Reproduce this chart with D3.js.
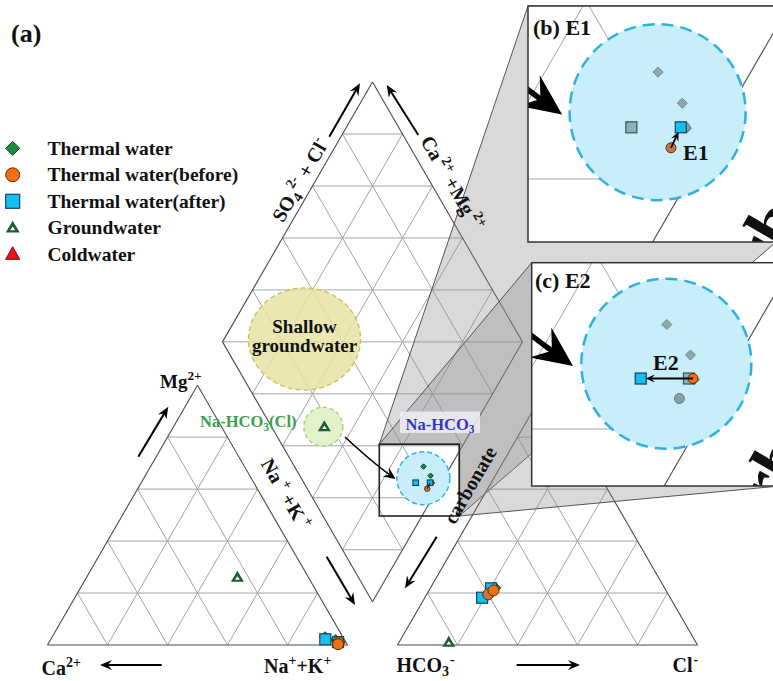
<!DOCTYPE html>
<html><head><meta charset="utf-8">
<script src="https://cdn.jsdelivr.net/npm/d3@7"></script>
<style>
body{margin:0;background:#fff;}
svg{display:block;font-family:"Liberation Serif","Times New Roman",serif;font-weight:bold;}
</style></head><body>
<svg id="chart" width="773" height="681"></svg>
<script>
// ---- sample compositions (meq %) ----
const sampleIds  = ["T1","T2","T3","A1","A2","B1","B2","G1"];
const sampleType = ["thermal","thermal","thermal","after","after","before","before","ground"];
const caPct   = [6.0, 3.0, 2.0, 6.3, 2.6, 2.5, 3.0, 23.7];
const mgPct   = [3.0, 1.9, 1.1, 2.2, 1.1, 1.0, 0.3, 26.0];
const naKPct  = [91.0, 95.1, 96.9, 91.5, 96.3, 96.5, 96.7, 50.3];
const hco3Pct = [57.0, 56.4, 57.4, 62.7, 57.9, 60.0, 57.5, 82.4];
const so4Pct  = [22.0, 22.0, 21.6, 18.2, 21.8, 19.5, 21.0, 1.0];
const clPct   = [21.0, 21.6, 21.0, 19.1, 20.3, 20.5, 21.5, 16.6];

// legend
const legendKeys  = ["thermal","before","after","ground","cold"];
const legendNames = ["Thermal water","Thermal water(before)","Thermal water(after)","Groundwater","Coldwater"];

// evolution pairs shown in the close-up panels
const panelNames  = ["E1","E2"];
const panelBefore = ["B1","B2"];
const panelAfter  = ["A2","A1"];
const gridSteps = [20,40,60,80];

// ---- geometry ----
const svg = d3.select("#chart");
const S = 300, HT = S*Math.sqrt(3)/2, baseY = 645, leftX0 = 47.5, gap = 50;
const rightX0 = leftX0 + S + gap;
const B = {x: leftX0 + S + gap/2, y: baseY - gap*Math.sqrt(3)/2};

const lX = d3.scaleLinear().domain([0,100]).range([leftX0, leftX0+S]);
const rX = d3.scaleLinear().domain([0,100]).range([rightX0, rightX0+S]);
const tY = d3.scaleLinear().domain([0,100]).range([baseY, baseY-HT]);
const dX = d3.scaleLinear().domain([-100,100]).range([B.x-S/2, B.x+S/2]);
const dY = d3.scaleLinear().domain([0,200]).range([B.y, B.y-2*HT]);

const catPt = (ca,mg,na) => [lX(na+mg/2), tY(mg)];
const anPt  = (hco3,so4,cl) => [rX(cl+so4/2), tY(so4)];
const diaPt = (a,c) => [dX(a-c), dY(a+c)];

const samples = sampleIds.map((id,i)=>({
  id, type: sampleType[i],
  cat: catPt(caPct[i], mgPct[i], naKPct[i]),
  an: anPt(hco3Pct[i], so4Pct[i], clPct[i]),
  dia: diaPt(so4Pct[i]+clPct[i], caPct[i]+mgPct[i])
}));
const byId = Object.fromEntries(samples.map(s=>[s.id,s]));

// ---- grid lines ----
const gridLines = [], edgeLines = [];
gridSteps.forEach(t=>{
  gridLines.push([catPt(100-t,t,0), catPt(0,t,100-t)]);
  gridLines.push([catPt(t,0,100-t), catPt(t,100-t,0)]);
  gridLines.push([catPt(100-t,0,t), catPt(0,100-t,t)]);
  gridLines.push([anPt(100-t,t,0), anPt(0,t,100-t)]);
  gridLines.push([anPt(t,0,100-t), anPt(t,100-t,0)]);
  gridLines.push([anPt(100-t,0,t), anPt(0,100-t,t)]);
  gridLines.push([diaPt(0,t), diaPt(100,t)]);
  gridLines.push([diaPt(t,0), diaPt(t,100)]);
});
d3.range(20,200,20).forEach(s=>{
  if (s<=100) gridLines.push([diaPt(s,0), diaPt(0,s)]);
  else gridLines.push([diaPt(100,s-100), diaPt(s-100,100)]);
});
const triL = [catPt(100,0,0), catPt(0,0,100), catPt(0,100,0)];
const triR = [anPt(100,0,0), anPt(0,0,100), anPt(0,100,0)];
const dia  = [diaPt(0,0), diaPt(100,0), diaPt(100,100), diaPt(0,100)];
[triL, triR, dia].forEach(poly=>poly.forEach((p,i)=>edgeLines.push([p, poly[(i+1)%poly.length]])));

function drawGrid(g, px, py, gw, ew){
  g.append("g").selectAll("line").data(gridLines).join("line")
    .attr("x1",d=>px(d[0][0])).attr("y1",d=>py(d[0][1]))
    .attr("x2",d=>px(d[1][0])).attr("y2",d=>py(d[1][1]))
    .attr("stroke","#a3a3a3").attr("stroke-width",gw);
  g.append("g").selectAll("line").data(edgeLines).join("line")
    .attr("x1",d=>px(d[0][0])).attr("y1",d=>py(d[0][1]))
    .attr("x2",d=>px(d[1][0])).attr("y2",d=>py(d[1][1]))
    .attr("stroke","#4a4a4a").attr("stroke-width",ew);
}

// ---- helpers ----
function rich(sel, parts, size){
  let shift = 0;
  parts.forEach(p=>{
    let target = 0, fs = size;
    if (p.sup){ target = -0.42*size; fs = 0.7*size; }
    else if (p.sub){ target = 0.22*size; fs = 0.7*size; }
    const ts = sel.append("tspan").text(p.t).attr("font-size",fs).attr("dy",target-shift);
    if (p.dx) ts.attr("dx",p.dx);
    shift = target;
  });
}
function arrowHead(tip, from, len, hw){
  const dx = tip[0]-from[0], dy = tip[1]-from[1], L = Math.hypot(dx,dy);
  const ux = dx/L, uy = dy/L, nx = -uy, ny = ux;
  return [tip,
    [tip[0]-len*ux+hw*nx, tip[1]-len*uy+hw*ny],
    [tip[0]-0.65*len*ux, tip[1]-0.65*len*uy],
    [tip[0]-len*ux-hw*nx, tip[1]-len*uy-hw*ny]];
}
function straightArrow(g, a, b, opt={}){
  const len = opt.len||11, hw = opt.hw||4.5, sw = opt.sw||2;
  const dx=b[0]-a[0], dy=b[1]-a[1], L=Math.hypot(dx,dy);
  const end = [b[0]-dx/L*len*0.6, b[1]-dy/L*len*0.6];
  g.append("line").attr("x1",a[0]).attr("y1",a[1]).attr("x2",end[0]).attr("y2",end[1])
    .attr("stroke","#000").attr("stroke-width",sw);
  g.append("polygon").attr("points",arrowHead(b,a,len,hw).map(p=>p.join(",")).join(" ")).attr("fill","#000");
}

const styles = {
  thermal:{fill:"#1f8c3d", stroke:"#0c4a1c"},
  before:{fill:"#f27012", stroke:"#5c2a08"},
  after:{fill:"#14bff1", stroke:"#12465c"},
  ground:{fill:"#1c5e2c", stroke:"#1c5e2c"},
  cold:{fill:"#e8141a", stroke:"#6e0a0a"}
};
const beforeTint = {B1:"#c5793d", B2:"#f27012"};
const faded = {
  thermal:{fill:"#8fa8ae", stroke:"#6f8d95"},
  after:{fill:"#91b1ba", stroke:"#34525a"},
  before:{fill:"#86a2a9", stroke:"#587880"}
};

function marker(g, type, x, y, size, st){
  const h = size/2;
  if (type==="thermal"){
    g.append("path").attr("d",`M${x},${y-h}L${x+h},${y}L${x},${y+h}L${x-h},${y}Z`)
      .attr("fill",st.fill).attr("stroke",st.stroke).attr("stroke-width",1);
  } else if (type==="before"){
    g.append("circle").attr("cx",x).attr("cy",y).attr("r",h)
      .attr("fill",st.fill).attr("stroke",st.stroke).attr("stroke-width",1);
  } else if (type==="after"){
    g.append("rect").attr("x",x-h).attr("y",y-h).attr("width",size).attr("height",size)
      .attr("fill",st.fill).attr("stroke",st.stroke).attr("stroke-width",1.2);
  } else if (type==="ground"){
    const th = size*0.85;
    g.append("path").attr("d",`M${x},${y-th*0.6}L${x+h},${y+th*0.4}L${x-h},${y+th*0.4}Z`).attr("fill",st.fill);
    g.append("path").attr("d",`M${x},${y-th*0.1}L${x+h*0.38},${y+th*0.2}L${x-h*0.38},${y+th*0.2}Z`).attr("fill","#fff");
  } else if (type==="cold"){
    const th = size*0.9;
    g.append("path").attr("d",`M${x},${y-th*0.6}L${x+h},${y+th*0.4}L${x-h},${y+th*0.4}Z`)
      .attr("fill",st.fill).attr("stroke",st.stroke).attr("stroke-width",1);
  }
}
const drawOrder = ["thermal","after","before","ground"];
function sampleStyle(s){ return s.type==="before" ? {fill:beforeTint[s.id], stroke:styles.before.stroke} : styles[s.type]; }

// ---- base grids ----
const gBase = svg.append("g");
drawGrid(gBase, d=>d, d=>d, 1, 1.1);

// annotation zones
const zone = svg.append("g");
zone.append("ellipse").attr("cx",304.5).attr("cy",339).attr("rx",56).attr("ry",51)
  .attr("fill","#e7e3a6").attr("fill-opacity",0.85).attr("stroke","#cdc45a").attr("stroke-width",1.5).attr("stroke-dasharray","5,3");
zone.append("circle").attr("cx",323.3).attr("cy",426.7).attr("r",19.5)
  .attr("fill","#e1f1c6").attr("fill-opacity",0.9).attr("stroke","#a6d27c").attr("stroke-width",1.5).attr("stroke-dasharray","4,3");
const naZone = {a:40.7, c:6.8, r:26.5};
const naC = diaPt(naZone.a, naZone.c);
zone.append("circle").attr("cx",naC[0]).attr("cy",naC[1]).attr("r",naZone.r)
  .attr("fill","#c9eefb").attr("stroke","#2cb1e2").attr("stroke-width",1.5).attr("stroke-dasharray","5,3");

// projection wedges toward the close-up panels
const rect = {x0:379.3, y0:444.3, x1:459.3, y1:516};
const panelBox = [{x0:528, y0:6, x1:776, y1:242}, {x0:531.7, y0:262.7, x1:780, y1:486}];
const gWedge = svg.append("g");
panelBox.forEach(p=>{
  const pts = [[rect.x0,rect.y0],[p.x0,p.y0],[p.x1,p.y0],[p.x1,p.y1],[rect.x1,rect.y1],[rect.x1,rect.y0]];
  gWedge.append("polygon").attr("points",pts.map(q=>q.join(",")).join(" "))
    .attr("fill","#8c8c8c").attr("fill-opacity",0.33).attr("stroke","#555").attr("stroke-width",1);
});

// Na-HCO3 label
svg.append("rect").attr("x",400).attr("y",411.5).attr("width",80).attr("height",21.5)
  .attr("fill","#efeff5").attr("fill-opacity",0.85);
rich(svg.append("text").attr("x",440).attr("y",429.5).attr("text-anchor","middle").attr("fill","#3434c6"),
  [{t:"Na-HCO"},{t:"3",sub:true}], 16.5);
rich(svg.append("text").attr("x",200).attr("y",427).attr("fill","#39a04c"),
  [{t:"Na-HCO"},{t:"3",sub:true},{t:"(Cl)"}], 16.5);
svg.append("text").attr("x",304.5).attr("y",332.5).attr("text-anchor","middle").attr("font-size",19).attr("fill","#111").text("Shallow");
svg.append("text").attr("x",304.5).attr("y",351.5).attr("text-anchor","middle").attr("font-size",19).attr("fill","#111").text("groundwater");

// zoom frame
svg.append("rect").attr("x",rect.x0).attr("y",rect.y0).attr("width",rect.x1-rect.x0).attr("height",rect.y1-rect.y0)
  .attr("fill","none").attr("stroke","#222").attr("stroke-width",1.6);

// curved arrow from the Na-HCO3(Cl) zone to the Na-HCO3 zone
const cArrow = {start:[345,437], ctrl:[372,462], tip:[395.5,479]};
function curvedArrow(g, px, py, k){
  const s=cArrow.start, c=cArrow.ctrl, t=cArrow.tip;
  const head = arrowHead(t, c, 12, 5.5);
  const end = head[2];
  g.append("path").attr("d",`M${px(s[0])},${py(s[1])}Q${px(c[0])},${py(c[1])} ${px(end[0])},${py(end[1])}`)
    .attr("fill","none").attr("stroke","#000").attr("stroke-width",1.6*k);
  g.append("polygon").attr("points",head.map(p=>px(p[0])+","+py(p[1])).join(" ")).attr("fill","#000");
}
curvedArrow(svg, d=>d, d=>d, 1);

// "carbonate" label along the diamond edge
const carboSize = 20;
function carbText(g, cx, cy, size){
  g.append("text").attr("transform",`translate(${cx},${cy}) rotate(-60)`)
    .attr("text-anchor","middle").attr("y",size*0.35).attr("font-size",size).attr("fill","#111").text("carbonate");
}
carbText(svg, 470, 485, carboSize);

// ---- samples in main diagram ----
const gPts = svg.append("g");
drawOrder.forEach(type=>{
  samples.filter(s=>s.type===type).forEach(s=>{
    const st = sampleStyle(s);
    const big = type==="ground" ? 13 : 11;
    marker(gPts, type, s.cat[0], s.cat[1], big, st);
    marker(gPts, type, s.an[0], s.an[1], big, st);
  });
});
["thermal","before","after","ground"].forEach(type=>{
  samples.filter(s=>s.type===type).forEach(s=>{
    const st = sampleStyle(s);
    marker(gPts, type, s.dia[0], s.dia[1], type==="ground"?13:5.5, st);
  });
});
// small evolution arrow inside the frame
(function(){
  const a = byId[panelBefore[0]].dia, b = byId[panelAfter[0]].dia;
  gPts.append("line").attr("x1",a[0]).attr("y1",a[1]).attr("x2",b[0]).attr("y2",b[1]).attr("stroke","#000").attr("stroke-width",1);
})();

// ---- axis labels and arrows ----
const lab = svg.append("g").attr("fill","#111");
rich(lab.append("text").attr("x",160).attr("y",388), [{t:"Mg"},{t:"2+",sup:true}], 19);
rich(lab.append("text").attr("x",41.5).attr("y",675), [{t:"Ca"},{t:"2+",sup:true}], 20);
rich(lab.append("text").attr("x",264).attr("y",673), [{t:"Na"},{t:"+",sup:true},{t:"+K"},{t:"+",sup:true}], 20);
rich(lab.append("text").attr("x",396.5).attr("y",672), [{t:"HCO"},{t:"3",sub:true},{t:"-",sup:true,dx:1}], 20);
rich(lab.append("text").attr("x",672.5).attr("y",672), [{t:"Cl"},{t:"-",sup:true,dx:1}], 20);

function rotLabel(cx, cy, ang, parts, size){
  const t = lab.append("text").attr("transform",`translate(${cx},${cy}) rotate(${ang})`)
    .attr("text-anchor","middle").attr("y",size*0.35);
  rich(t, parts, size);
}
rotLabel(300, 180, -60, [{t:"SO"},{t:"4",sub:true},{t:"2-",sup:true,dx:1},{t:" + Cl"},{t:"-",sup:true}], 20);
rotLabel(452.5, 183, 60, [{t:"Ca"},{t:"2+",sup:true,dx:3},{t:" +Mg"},{t:"2+",sup:true,dx:3}], 20);
rotLabel(286, 494, 60, [{t:"Na"},{t:"+",sup:true,dx:3},{t:" +K"},{t:"+",sup:true,dx:3}], 20);

const axisArrows = [
  [[138.3,456.7],[168.3,406.7]],
  [[161.7,665],[100,665]],
  [[516.7,665],[580,665]],
  [[326.7,556.7],[355,605]],
  [[436.7,536.7],[405,588.3]],
  [[329.3,136.7],[360,83.3]],
  [[418.3,135],[386.7,85]]
];
axisArrows.forEach(a=>straightArrow(lab, a[0], a[1], {len:12, hw:5, sw:2}));

// ---- close-up panels ----
const P1 = diaPt(40,0);
const panels = [
  {box:panelBox[0], k:3.43, anchor:[689,179], title:"(b) E1", titlePos:[533,35], tag:[683,160], ring:88, carbo:[788,194]},
  {box:panelBox[1], k:3.35, anchor:[697,429], title:"(c) E2", titlePos:[535,288], tag:[653,370], ring:85, carbo:[793,430]}
];
panels.forEach((p,pi)=>{
  const px = d3.scaleLinear().domain([P1[0],P1[0]+100]).range([p.anchor[0], p.anchor[0]+100*p.k]);
  const py = d3.scaleLinear().domain([P1[1],P1[1]+100]).range([p.anchor[1], p.anchor[1]+100*p.k]);
  const b = p.box;
  const cid = "clip"+pi;
  svg.append("clipPath").attr("id",cid).append("rect").attr("x",b.x0).attr("y",b.y0).attr("width",b.x1-b.x0).attr("height",b.y1-b.y0);
  svg.append("rect").attr("x",b.x0).attr("y",b.y0).attr("width",b.x1-b.x0).attr("height",b.y1-b.y0).attr("fill","#fff");
  const g = svg.append("g").attr("clip-path",`url(#${cid})`);
  drawGrid(g, px, py, 1, 1.1);
  g.append("circle").attr("cx",px(naC[0])).attr("cy",py(naC[1])).attr("r",p.ring)
    .attr("fill","#c9eefb").attr("stroke","#2cb1e2").attr("stroke-width",2.5).attr("stroke-dasharray","12,7");
  curvedArrow(g, px, py, p.k);
  carbText(g, p.carbo[0], p.carbo[1], carboSize*p.k);

  const hi = new Set([panelBefore[pi], panelAfter[pi]]);
  ["thermal","after","before"].forEach(type=>{
    samples.filter(s=>s.type===type && !hi.has(s.id)).forEach(s=>{
      marker(g, type, px(s.dia[0]), py(s.dia[1]), type==="thermal"?10:(type==="after"?11:10), faded[type]);
    });
  });
  ["after","before"].forEach(type=>{
    samples.filter(s=>s.type===type && hi.has(s.id)).forEach(s=>{
      marker(g, type, px(s.dia[0]), py(s.dia[1]), type==="after"?11:10, sampleStyle(s));
    });
  });
  const a = byId[panelBefore[pi]].dia, z = byId[panelAfter[pi]].dia;
  const A = [px(a[0]),py(a[1])], Z = [px(z[0]),py(z[1])];
  const dx = Z[0]-A[0], dy = Z[1]-A[1], L = Math.hypot(dx,dy);
  const tip = [Z[0]-dx/L*5, Z[1]-dy/L*5];
  straightArrow(g, A, tip, {len:9, hw:4, sw:1.8});
  g.append("text").attr("x",p.tag[0]).attr("y",p.tag[1]).attr("font-size",22).attr("fill","#111").text(panelNames[pi]);
  g.append("text").attr("x",p.titlePos[0]).attr("y",p.titlePos[1]).attr("font-size",22).attr("fill","#111").text(p.title);
  svg.append("rect").attr("x",b.x0).attr("y",b.y0).attr("width",b.x1-b.x0).attr("height",b.y1-b.y0)
    .attr("fill","none").attr("stroke","#333").attr("stroke-width",1.5);
});

// ---- panel tag and legend ----
svg.append("text").attr("x",11).attr("y",42).attr("font-size",26).attr("fill","#111").text("(a)");
const leg = svg.append("g");
legendKeys.forEach((k,i)=>{
  const y = 148.3 + i*26.5;
  marker(leg, k, 12.7, y, 14, styles[k]);
  leg.append("text").attr("x",47.5).attr("y",y+6.5).attr("font-size",19.5).attr("fill","#111").text(legendNames[i]);
});
</script>
</body></html>
